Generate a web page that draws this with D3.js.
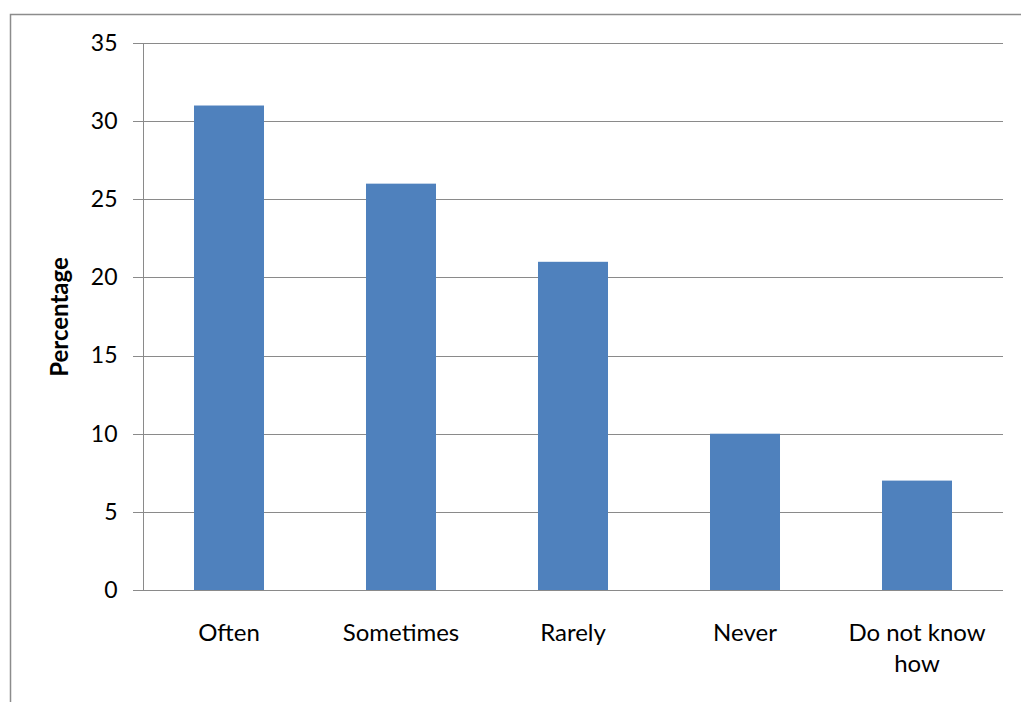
<!DOCTYPE html>
<html><head><meta charset="utf-8">
<script src="https://cdn.jsdelivr.net/npm/d3@7"></script>
<style>body{margin:0;background:#fff}svg{display:block}</style>
</head><body>
<svg id="c" width="1021" height="702"></svg>
<script>
const categories = ["Often", "Sometimes", "Rarely", "Never", "Do not know how"];
const categoryLines = [["Often"], ["Sometimes"], ["Rarely"], ["Never"], ["Do not know", "how"]];
const values = [31, 26, 21, 10, 7];
const yTicks = [0, 5, 10, 15, 20, 25, 30, 35];
const yTitle = "Percentage";

const svg = d3.select("#c");
const font = "Lato, 'Open Sans', sans-serif";
const m = {left: 143, right: 1003, top: 43, bottom: 590};

// outer frame
svg.append("path").attr("d", "M10.5,702 L10.5,14.5 L1021,14.5")
  .attr("fill", "none").attr("stroke", "#8c8c8c").attr("stroke-width", 1.5);

const x = d3.scaleBand().domain(categories).range([m.left, m.right]).paddingInner(0.593).paddingOuter(0.2965);
const y = d3.scaleLinear().domain([0, 35]).range([m.bottom, m.top]);

// gridlines
svg.append("g").selectAll("line").data(yTicks).join("line")
  .attr("x1", m.left - 10).attr("x2", m.right)
  .attr("y1", d => Math.round(y(d)) + 0.5).attr("y2", d => Math.round(y(d)) + 0.5)
  .attr("stroke", "#8a8a8a").attr("stroke-width", 1);

// bars
svg.append("g").selectAll("rect").data(values).join("rect")
  .attr("x", (d, i) => x(categories[i])).attr("width", x.bandwidth())
  .attr("y", d => y(d)).attr("height", d => y(0) - y(d))
  .attr("fill", "#4f81bd");

// y axis
const yAxis = d3.axisLeft(y).tickValues(yTicks).tickSize(0).tickPadding(26);
const ga = svg.append("g").attr("transform", `translate(${m.left + 0.5},0)`).call(yAxis);
ga.select(".domain").attr("stroke", "#8a8a8a").attr("d", `M0,${m.top}V${m.bottom}`);
ga.selectAll("text").attr("font-family", font).attr("font-size", 23).attr("fill", "#000");

// x labels
const gx = svg.append("g");
categories.forEach((c, i) => {
  const cx = x(c) + x.bandwidth() / 2;
  const t = gx.append("text").attr("x", cx).attr("y", 641)
    .attr("text-anchor", "middle").attr("font-family", font).attr("font-size", 24).attr("fill", "#000");
  categoryLines[i].forEach((ln, j) => {
    t.append("tspan").attr("x", cx).attr("dy", j === 0 ? 0 : 31).text(ln);
  });
});

// y title
svg.append("text").attr("transform", "translate(68,317) rotate(-90)")
  .attr("text-anchor", "middle").attr("font-family", font).attr("font-weight", "bold")
  .attr("font-size", 24).attr("fill", "#000").text(yTitle);
</script>
</body></html>
